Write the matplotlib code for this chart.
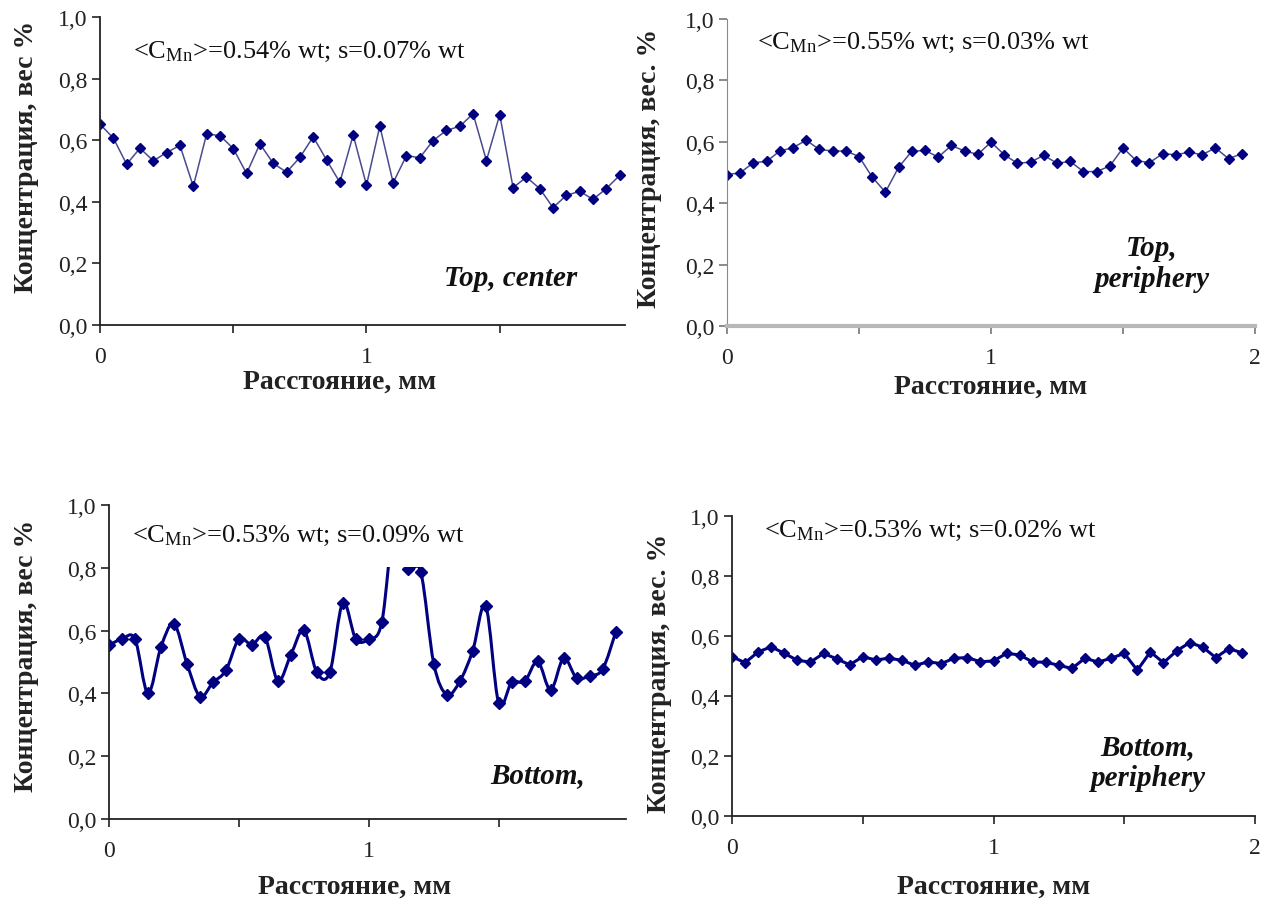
import matplotlib
matplotlib.use("Agg")
import matplotlib.pyplot as plt
import numpy as np
from matplotlib.path import Path
from matplotlib.patches import PathPatch, Rectangle

plt.rcParams['font.family'] = ['Liberation Serif', 'DejaVu Serif']
plt.rcParams['mathtext.fontset'] = 'stix'

# ---------------- data ----------------
distance_mm = [0.00, 0.05, 0.10, 0.15, 0.20, 0.25, 0.30, 0.35, 0.40, 0.45,
               0.50, 0.55, 0.60, 0.65, 0.70, 0.75, 0.80, 0.85, 0.90, 0.95,
               1.00, 1.05, 1.10, 1.15, 1.20, 1.25, 1.30, 1.35, 1.40, 1.45,
               1.50, 1.55, 1.60, 1.65, 1.70, 1.75, 1.80, 1.85, 1.90, 1.95]

top_center = [0.652, 0.607, 0.522, 0.574, 0.533, 0.560, 0.583, 0.450, 0.620, 0.615,
              0.573, 0.492, 0.588, 0.525, 0.496, 0.544, 0.611, 0.536, 0.463, 0.617,
              0.454, 0.646, 0.462, 0.550, 0.543, 0.599, 0.632, 0.645, 0.686, 0.534,
              0.683, 0.446, 0.480, 0.443, 0.381, 0.421, 0.434, 0.408, 0.443, 0.486]

top_periphery = [0.493, 0.499, 0.532, 0.536, 0.570, 0.581, 0.605, 0.575, 0.570, 0.570,
                 0.552, 0.485, 0.436, 0.517, 0.569, 0.572, 0.550, 0.588, 0.570, 0.559,
                 0.599, 0.558, 0.530, 0.534, 0.556, 0.530, 0.536, 0.503, 0.503, 0.521,
                 0.580, 0.539, 0.532, 0.561, 0.558, 0.566, 0.558, 0.580, 0.545, 0.561]

bottom_center = [0.554, 0.573, 0.573, 0.400, 0.548, 0.622, 0.495, 0.390, 0.435, 0.473,
                 0.573, 0.555, 0.580, 0.440, 0.523, 0.601, 0.467, 0.467, 0.689, 0.573,
                 0.573, 0.626, 0.950, 0.797, 0.787, 0.495, 0.396, 0.438, 0.536, 0.679,
                 0.369, 0.435, 0.438, 0.502, 0.411, 0.512, 0.449, 0.456, 0.477, 0.594]

bottom_periphery = [0.531, 0.511, 0.547, 0.564, 0.542, 0.519, 0.513, 0.542, 0.524, 0.504,
                    0.531, 0.520, 0.526, 0.519, 0.502, 0.514, 0.508, 0.526, 0.528, 0.514,
                    0.517, 0.542, 0.537, 0.513, 0.513, 0.502, 0.492, 0.526, 0.513, 0.526,
                    0.542, 0.486, 0.547, 0.511, 0.550, 0.578, 0.563, 0.528, 0.558, 0.544]

y_ticks = [0.0, 0.2, 0.4, 0.6, 0.8, 1.0]
y_tick_labels = ["0,0", "0,2", "0,4", "0,6", "0,8", "1,0"]
x_major = [0, 1, 2]
x_minor = [0.5, 1.5]

stats_text = ["<C$_{\\mathregular{Mn}}$>=0.54% wt; s=0.07% wt",
              "<C$_{\\mathregular{Mn}}$>=0.55% wt; s=0.03% wt",
              "<C$_{\\mathregular{Mn}}$>=0.53% wt; s=0.09% wt",
              "<C$_{\\mathregular{Mn}}$>=0.53% wt; s=0.02% wt"]
panel_labels = ["Top, center", "Top,\nperiphery", "Bottom,", "Bottom,\nperiphery"]
y_labels = ["Концентрация, вес %", "Концентрация, вес. %",
            "Концентрация, вес %", "Концентрация, вес. %"]
x_label = "Расстояние, мм"

# --------------- figure ---------------
W, H = 1274, 904
fig = plt.figure(figsize=(W / 100, H / 100), dpi=100)
fig.patch.set_facecolor("white")

def frac(l, r, top, bot):
    return [l / W, 1 - bot / H, (r - l) / W, (bot - top) / H]

axes_px = [
    (100, 625, 18, 326),
    (727, 1255, 20, 327),
    (109, 626, 506, 820),
    (732, 1255, 517, 817),
]
xmaxs = [1.97, 2.0, 1.99, 2.0]
series = [top_center, top_periphery, bottom_center, bottom_periphery]
stat_pos = [(0.124, 0.89), (0.114, 0.925), (0.088, 0.905), (0.122, 0.955)]
label_pos = [(1.54, 0.155), (1.61, 0.205), (1.65, 0.143), (1.59, 0.18)]
xlabel_coords = [(0.457, -0.143), (0.5, -0.156), (0.476, -0.175), (0.5, -0.193)]
ylabel_coords = [(-0.116, 0.549), (-0.123, 0.518), (-0.135, 0.522), (-0.115, 0.48)]

navy = "#000080"


def smooth_path(xs, ys):
    pts = np.column_stack([xs, ys])
    n = len(pts)
    verts = [pts[0]]
    codes = [Path.MOVETO]
    for i in range(n - 1):
        p0 = pts[max(i - 1, 0)]
        p1 = pts[i]
        p2 = pts[i + 1]
        p3 = pts[min(i + 2, n - 1)]
        c1 = p1 + (p2 - p0) / 6.0
        c2 = p2 - (p3 - p1) / 6.0
        verts += [c1, c2, p2]
        codes += [Path.CURVE4] * 3
    return Path(verts, codes)


for k in range(4):
    ax = fig.add_axes(frac(*axes_px[k]))
    ax.set_xlim(0, xmaxs[k])
    ax.set_ylim(0, 1.0)
    for s in ["top", "right"]:
        ax.spines[s].set_visible(False)

    spine_col = "#222222"
    if k == 1:
        ax.spines["left"].set_color("#8a8a8a")
        ax.spines["bottom"].set_color("#b8b8b8")
        ax.spines["bottom"].set_linewidth(3.0)
        tick_col = "#777777"
    else:
        ax.spines["left"].set_color(spine_col)
        ax.spines["bottom"].set_color(spine_col)
        ax.spines["left"].set_linewidth(1.3)
        ax.spines["bottom"].set_linewidth(1.3)
        tick_col = spine_col

    ax.set_yticks(y_ticks)
    ax.set_yticklabels(y_tick_labels)
    if k in (1, 3):
        ax.set_xticks(x_major)
        ax.set_xticklabels(["0", "1", "2"])
    else:
        ax.set_xticks([0, 1])
        ax.set_xticklabels(["0", "1"])
    ax.set_xticks(x_minor, minor=True)
    ax.tick_params(axis="both", which="both", direction="out", length=6,
                   width=1.2, colors=tick_col, labelcolor="#222222",
                   labelsize=17)
    ax.tick_params(axis="x", pad=9)
    ax.tick_params(axis="y", pad=3)

    ys = series[k]
    if k == 2:
        patch = PathPatch(smooth_path(distance_mm, ys), facecolor="none",
                          edgecolor=navy, linewidth=2.2, zorder=2)
        ax.add_patch(patch)
        ax.plot(distance_mm, ys, linestyle="none", marker="D", markersize=6,
                color=navy, zorder=2.5)
        # white text box area that hides the peak above 0.8
        ax.add_patch(Rectangle((0.05, 0.803), 1.6, 0.192, facecolor="white",
                               edgecolor="none", zorder=3))
    elif k == 3:
        ax.plot(distance_mm, ys, linestyle="-", linewidth=2.2, color=navy,
                marker="D", markersize=5.5, zorder=2)
    else:
        ax.plot(distance_mm, ys, linestyle="-", linewidth=1.1, color="#4a4a90",
                marker="D", markersize=5.5, markerfacecolor=navy,
                markeredgecolor=navy, zorder=2)

    ax.text(stat_pos[k][0], stat_pos[k][1], stats_text[k], fontsize=19,
            ha="left", va="center", color="#111111", zorder=4)
    ax.text(label_pos[k][0], label_pos[k][1], panel_labels[k], fontsize=21,
            fontweight="bold", fontstyle="italic", ha="center", va="center",
            linespacing=1.2, color="#111111", zorder=4)

    ax.set_xlabel(x_label, fontsize=20, fontweight="bold", color="#222222")
    ax.set_ylabel(y_labels[k], fontsize=20, fontweight="bold", color="#222222")
    ax.xaxis.set_label_coords(*xlabel_coords[k])
    ax.yaxis.set_label_coords(*ylabel_coords[k])

fig.savefig("out.png", dpi=100, facecolor="white")
